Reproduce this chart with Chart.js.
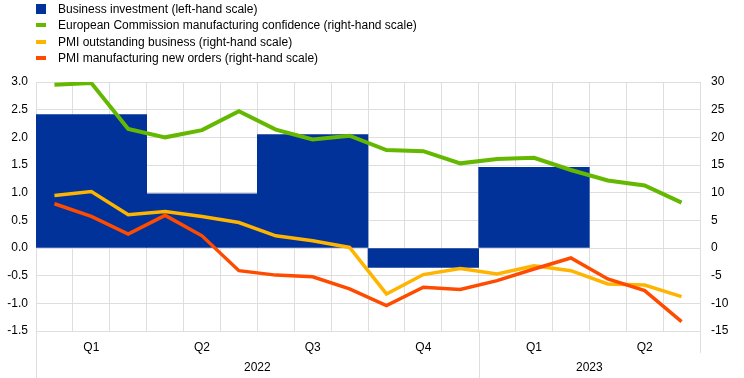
<!DOCTYPE html>
<html>
<head>
<meta charset="utf-8">
<script src="https://cdn.jsdelivr.net/npm/chart.js@4/dist/chart.umd.min.js"></script>
<style>
  body { margin: 0; background: #fff; }
  #wrap { position: relative; width: 744px; height: 378px; font-family: "Liberation Sans", Arial, sans-serif; }
  #legend { position: absolute; left: 36px; top: 1px; font-size: 12px; color: #000; }
  .item { height: 16.3px; line-height: 16.3px; position: relative; padding-left: 22px; white-space: nowrap; }
  .mark { position: absolute; left: 0; }
</style>
</head>
<body>
<div id="wrap">
  <canvas id="chart"></canvas>
  <div id="legend"></div>
</div>
<script>
// monthly categories (Jan 2022 - Jun 2023)
const months = ['Jan', 'Feb', 'Mar', 'Apr', 'May', 'Jun', 'Jul', 'Aug', 'Sep', 'Oct', 'Nov', 'Dec',
                'Jan', 'Feb', 'Mar', 'Apr', 'May', 'Jun'];
const quarters = ['Q1', 'Q2', 'Q3', 'Q4', 'Q1', 'Q2'];
const years = ['2022', '2023'];
const quartersPerYear = [4, 2];

// left-hand scale, quarterly
const businessInvestment = [2.41, 0.98, 2.05, -0.35, 1.46, null];

// right-hand scale, monthly
const ecConfidence = [29.5, 29.8, 21.5, 20.0, 21.3, 24.7, 21.4, 19.6, 20.3, 17.7, 17.5, 15.3,
                      16.1, 16.3, 14.1, 12.2, 11.3, 8.2];
const pmiOutstanding = [9.5, 10.2, 6.0, 6.6, 5.7, 4.6, 2.2, 1.3, 0.1, -8.3, -4.8, -3.7,
                        -4.7, -3.2, -4.1, -6.5, -6.7, -8.8];
const pmiNewOrders = [8.0, 5.7, 2.5, 5.9, 2.2, -4.1, -4.9, -5.2, -7.4, -10.4, -7.1, -7.5,
                      -5.9, -3.8, -1.8, -5.6, -7.7, -13.3];

const gridColor = '#dedede';
const font = { family: '"Liberation Sans", Arial, sans-serif', size: 12 };

const datasets = [
  { type: 'bar', label: 'Business investment (left-hand scale)', data: businessInvestment,
    xAxisID: 'xq', yAxisID: 'y', backgroundColor: '#003299',
    barPercentage: 1, categoryPercentage: 1, grouped: false, order: 4 },
  { type: 'line', label: 'European Commission manufacturing confidence (right-hand scale)', data: ecConfidence,
    xAxisID: 'x', yAxisID: 'y2', borderColor: '#65b800', borderWidth: 4, pointRadius: 0, tension: 0, order: 3 },
  { type: 'line', label: 'PMI outstanding business (right-hand scale)', data: pmiOutstanding,
    xAxisID: 'x', yAxisID: 'y2', borderColor: '#ffb400', borderWidth: 3.5, pointRadius: 0, tension: 0, order: 2 },
  { type: 'line', label: 'PMI manufacturing new orders (right-hand scale)', data: pmiNewOrders,
    xAxisID: 'x', yAxisID: 'y2', borderColor: '#ff4b00', borderWidth: 3.5, pointRadius: 0, tension: 0, order: 1 },
];

// year labels and separators under the quarters
const yearPlugin = {
  id: 'years',
  afterDraw(chart) {
    const c = chart.ctx;
    const xq = chart.scales.xq;
    const area = chart.chartArea;
    const w = (area.right - area.left) / quarters.length;
    c.save();
    c.strokeStyle = gridColor;
    c.lineWidth = 1;
    c.fillStyle = '#000';
    c.font = '12px "Liberation Sans", Arial, sans-serif';
    c.textAlign = 'center';
    c.textBaseline = 'middle';
    let start = 0;
    const edges = [area.left];
    years.forEach((y, i) => {
      const l = xq.getPixelForValue(start) - w / 2;
      const r = xq.getPixelForValue(start + quartersPerYear[i] - 1) + w / 2;
      c.fillText(y, (l + r) / 2, area.bottom + 37);
      edges.push(r);
      start += quartersPerYear[i];
    });
    edges.forEach((x, i) => {
      const px = Math.round(x) + 0.5;
      c.beginPath();
      c.moveTo(px, area.bottom);
      c.lineTo(px, i === edges.length - 1 ? area.bottom + 22 : chart.height);
      c.stroke();
    });
    c.restore();
  }
};

const chart = new Chart(document.getElementById('chart'), {
  type: 'bar',
  data: { labels: months, datasets: datasets },
  options: {
    responsive: true,
    maintainAspectRatio: false,
    animation: false,
    layout: { padding: { top: 82, left: 0, right: 0, bottom: 0 } },
    plugins: { legend: { display: false }, tooltip: { enabled: false } },
    scales: {
      x: {
        type: 'category', labels: months, position: 'bottom', offset: true,
        grid: { color: gridColor, offset: true, drawTicks: false },
        border: { color: gridColor },
        ticks: { display: false },
        afterFit: s => { s.height = 0; }
      },
      xq: {
        type: 'category', labels: quarters, position: 'bottom', offset: true,
        grid: { display: false, drawTicks: false },
        border: { display: false },
        ticks: { color: '#000', font: font, padding: 9, maxRotation: 0 },
        afterFit: s => { s.height = 47; }
      },
      y: {
        position: 'left', min: -1.5, max: 3, 
        grid: { color: gridColor, drawTicks: false },
        border: { color: gridColor },
        ticks: { stepSize: 0.5, color: '#000', font: font, padding: 8, callback: v => v.toFixed(1) },
        afterFit: s => { s.width = 36; }
      },
      y2: {
        position: 'right', min: -15, max: 30,
        grid: { display: false, drawTicks: false },
        border: { color: gridColor },
        ticks: { stepSize: 5, color: '#000', font: font, padding: 11 },
        afterFit: s => { s.width = 44; }
      }
    }
  },
  plugins: [yearPlugin]
});

// legend built from the datasets
const legend = document.getElementById('legend');
datasets.forEach(ds => {
  const item = document.createElement('div');
  item.className = 'item';
  const mark = document.createElement('span');
  mark.className = 'mark';
  if (ds.type === 'bar') {
    mark.style.cssText = 'width:10px;height:10px;top:3px;background:' + ds.backgroundColor;
  } else {
    mark.style.cssText = 'width:10px;height:4px;top:6px;background:' + ds.borderColor;
  }
  item.appendChild(mark);
  item.appendChild(document.createTextNode(ds.label));
  legend.appendChild(item);
});
</script>
</body>
</html>
